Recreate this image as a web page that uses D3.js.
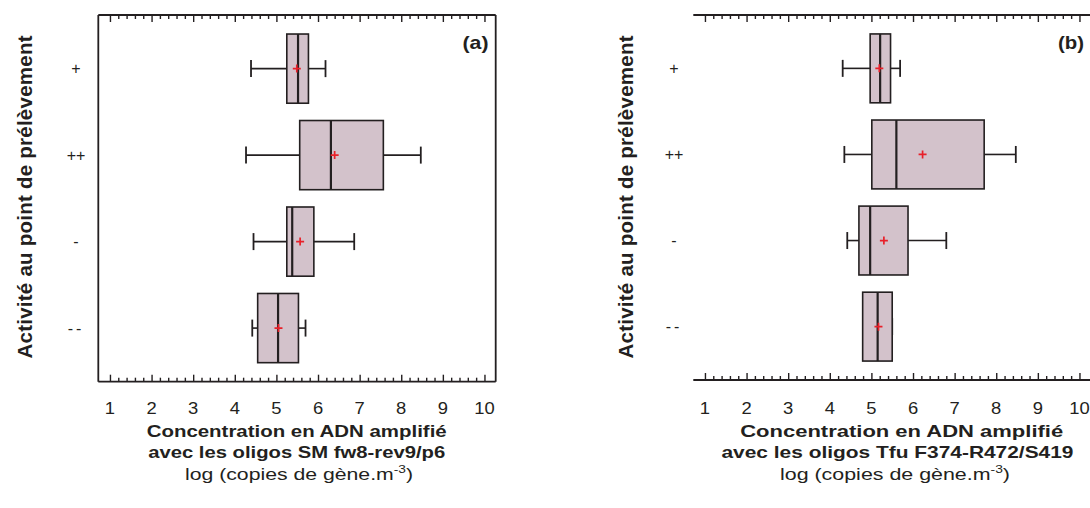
<!DOCTYPE html>
<html>
<head>
<meta charset="utf-8">
<script src="https://cdn.jsdelivr.net/npm/d3@7"></script>
<style>
	body { margin: 0; background: #fff; }
	svg { display: block; font-family: 'Liberation Sans', Arial, sans-serif; }
</style>
</head>
<body>
<svg id="chart" width="1090" height="508"></svg>
<script>
	'use strict';

	// Activité au point de prélèvement (top to bottom)
	var categories = ['+', '++', '-', '--'];
	var xTicks = [1, 2, 3, 4, 5, 6, 7, 8, 9, 10];

	// (a) SM fw8-rev9/p6, log copies
	var aMin    = [4.39, 4.27, 4.45, 4.42];
	var aQ1     = [5.25, 5.56, 5.25, 4.55];
	var aMedian = [5.52, 6.31, 5.38, 5.04];
	var aQ3     = [5.77, 7.57, 5.90, 5.53];
	var aMax    = [6.18, 8.47, 6.87, 5.70];
	var aMean   = [5.49, 6.40, 5.57, 5.05];

	// (b) Tfu F374-R472/S419, log copies
	var bMin    = [4.31, 4.35, 4.42, 4.80];
	var bQ1     = [4.97, 5.01, 4.70, 4.79];
	var bMedian = [5.21, 5.60, 4.97, 5.15];
	var bQ3     = [5.46, 7.71, 5.88, 5.50];
	var bMax    = [5.69, 8.47, 6.80, 5.50];
	var bMean   = [5.19, 6.23, 5.30, 5.17];

	var titleA = ['Concentration en ADN amplifié', 'avec les oligos SM fw8-rev9/p6'];
	var titleB = ['Concentration en ADN amplifié', 'avec les oligos Tfu F374-R472/S419'];
	var yTitle = 'Activité au point de prélèvement';

	var ink = '#231f20',
			boxFill = '#d3c2cb',
			meanColor = '#e8202a';

	function makeRows (min, q1, med, q3, max, mean)	{
		return categories.map(function (c, i)	{
			return { cat: c, min: min[i], q1: q1[i], med: med[i],
							 q3: q3[i], max: max[i], mean: mean[i] };
		});
	}

	function tickAxis (g, axis, y)	{
		g.append('g')
		 .attr('transform', 'translate(0,' + y + ')')
		 .attr('color', ink)
		 .call(axis)
		 .call(function (s)	{ s.select('.domain').remove(); })
		 .selectAll('line').attr('stroke-width', 1.4);
	}

	function drawPanel (svg, opts)	{
		var g = svg.append('g');
		var x = d3.scaleLinear().domain([0.72, 10.27])
							.range([opts.left, opts.right]);
		var y = d3.scalePoint().domain(categories)
							.range([opts.top, opts.bottom]).padding(0.62);
		var boxH = y.step() * 0.8,
				capH = 17;

		var minor = d3.range(1, 10.001, 0.2).filter(function (v)	{
			return Math.abs(v - Math.round(v)) > 1e-6;
		});

		// inward ticks, top and bottom
		tickAxis(g, d3.axisTop(x).tickValues(minor).tickSize(-4).tickFormat(''), opts.top);
		tickAxis(g, d3.axisTop(x).tickValues(xTicks).tickSize(-7).tickFormat(''), opts.top);
		tickAxis(g, d3.axisBottom(x).tickValues(minor).tickSize(-4).tickFormat(''), opts.bottom);
		tickAxis(g, d3.axisBottom(x).tickValues(xTicks).tickSize(-7).tickFormat(''), opts.bottom);

		// frame
		var frame = g.append('g').attr('stroke', ink).attr('stroke-width', 1.8)
								 .attr('fill', 'none');
		frame.append('line').attr('x1', opts.left).attr('x2', opts.right)
				 .attr('y1', opts.top).attr('y2', opts.top);
		frame.append('line').attr('x1', opts.left).attr('x2', opts.right)
				 .attr('y1', opts.bottom).attr('y2', opts.bottom);
		if (opts.sides)	{
			frame.append('line').attr('x1', opts.left).attr('x2', opts.left)
					 .attr('y1', opts.top).attr('y2', opts.bottom);
			frame.append('line').attr('x1', opts.right).attr('x2', opts.right)
					 .attr('y1', opts.top).attr('y2', opts.bottom);
		}

		// tick labels
		g.selectAll('.xlab').data(xTicks).enter().append('text')
		 .attr('class', 'xlab')
		 .attr('transform', function (d)	{
		 		return 'translate(' + x(d) + ',' + opts.labelY + ') scale(1.15,1)';
		 })
		 .attr('text-anchor', 'middle')
		 .attr('font-size', 16)
		 .attr('fill', ink)
		 .text(function (d)	{ return d; });

		// category labels
		g.selectAll('.ylab').data(categories).enter().append('text')
		 .attr('class', 'ylab')
		 .attr('x', opts.catX)
		 .attr('y', function (d)	{ return y(d); })
		 .attr('dy', '0.35em')
		 .attr('text-anchor', 'middle')
		 .attr('font-size', 16)
		 .attr('letter-spacing', function (d)	{ return d === '--' ? 3 : 0; })
		 .attr('fill', ink)
		 .text(function (d)	{ return d; });

		// boxes
		var rows = g.selectAll('.box').data(opts.rows).enter().append('g')
								.attr('class', 'box')
								.attr('transform', function (d)	{
									return 'translate(0,' + y(d.cat) + ')';
								});

		rows.append('line')
				.attr('x1', function (d)	{ return x(d.min); })
				.attr('x2', function (d)	{ return x(d.q1); })
				.attr('stroke', ink).attr('stroke-width', 1.6);
		rows.append('line')
				.attr('x1', function (d)	{ return x(d.q3); })
				.attr('x2', function (d)	{ return x(d.max); })
				.attr('stroke', ink).attr('stroke-width', 1.6);
		['min', 'max'].forEach(function (k)	{
			rows.append('line')
					.attr('x1', function (d)	{ return x(d[k]); })
					.attr('x2', function (d)	{ return x(d[k]); })
					.attr('y1', -capH / 2).attr('y2', capH / 2)
					.attr('stroke', ink).attr('stroke-width', 1.8);
		});
		rows.append('rect')
				.attr('x', function (d)	{ return x(d.q1); })
				.attr('width', function (d)	{ return x(d.q3) - x(d.q1); })
				.attr('y', -boxH / 2).attr('height', boxH)
				.attr('fill', boxFill)
				.attr('stroke', ink).attr('stroke-width', 1.6);
		rows.append('line')
				.attr('x1', function (d)	{ return x(d.med); })
				.attr('x2', function (d)	{ return x(d.med); })
				.attr('y1', -boxH / 2).attr('y2', boxH / 2)
				.attr('stroke', ink).attr('stroke-width', 2.2);
		rows.append('path')
				.attr('transform', function (d)	{
					return 'translate(' + x(d.mean) + ',0)';
				})
				.attr('d', 'M-4,0H4M0,-4V4')
				.attr('stroke', meanColor).attr('stroke-width', 1.7);

		// panel tag
		g.append('text')
		 .attr('x', opts.tagX).attr('y', 49)
		 .attr('text-anchor', 'end')
		 .attr('font-size', 19).attr('font-weight', 'bold')
		 .attr('textLength', 26).attr('lengthAdjust', 'spacingAndGlyphs')
		 .attr('fill', ink)
		 .text(opts.tag);

		// y title
		g.append('text')
		 .attr('transform', 'translate(' + opts.yTitleX + ',197) rotate(-90)')
		 .attr('text-anchor', 'middle')
		 .attr('font-size', 20.5).attr('font-weight', 'bold')
		 .attr('textLength', 323).attr('lengthAdjust', 'spacing')
		 .attr('fill', ink)
		 .text(yTitle);

		// x title
		opts.title.forEach(function (line, i)	{
			g.append('text')
			 .attr('x', opts.titleX[i]).attr('y', [436.5, 458][i])
			 .attr('text-anchor', 'middle')
			 .attr('font-size', 16.5).attr('font-weight', 'bold')
			 .attr('textLength', opts.titleW[i])
			 .attr('lengthAdjust', 'spacingAndGlyphs')
			 .attr('fill', ink)
			 .text(line);
		});

		var unit = g.append('text')
								.attr('x', opts.titleX[2]).attr('y', 480)
								.attr('text-anchor', 'middle')
								.attr('font-size', 17)
								.attr('textLength', opts.titleW[2])
								.attr('lengthAdjust', 'spacingAndGlyphs')
								.attr('fill', ink);
		unit.append('tspan').text('log (copies de gène.m');
		unit.append('tspan').attr('font-size', 11).attr('dy', -7).text('-3');
		unit.append('tspan').attr('dy', 7).text(')');
	}

	var svg = d3.select('#chart');

	drawPanel(svg, {
		left: 98.3, right: 495.7, top: 15, bottom: 381.7, sides: true,
		rows: makeRows(aMin, aQ1, aMedian, aQ3, aMax, aMean),
		labelY: 413.5, catX: 76, tag: '(a)', tagX: 488.5, yTitleX: 31.5,
		title: titleA, titleX: [296.7, 296.7, 299], titleW: [300, 297, 228]
	});

	drawPanel(svg, {
		left: 693.3, right: 1090.7, top: 15, bottom: 380, sides: false,
		rows: makeRows(bMin, bQ1, bMedian, bQ3, bMax, bMean),
		labelY: 413.5, catX: 674, tag: '(b)', tagX: 1084, yTitleX: 633,
		title: titleB, titleX: [901.7, 897.5, 895], titleW: [323, 352, 230]
	});
</script>
</body>
</html>
